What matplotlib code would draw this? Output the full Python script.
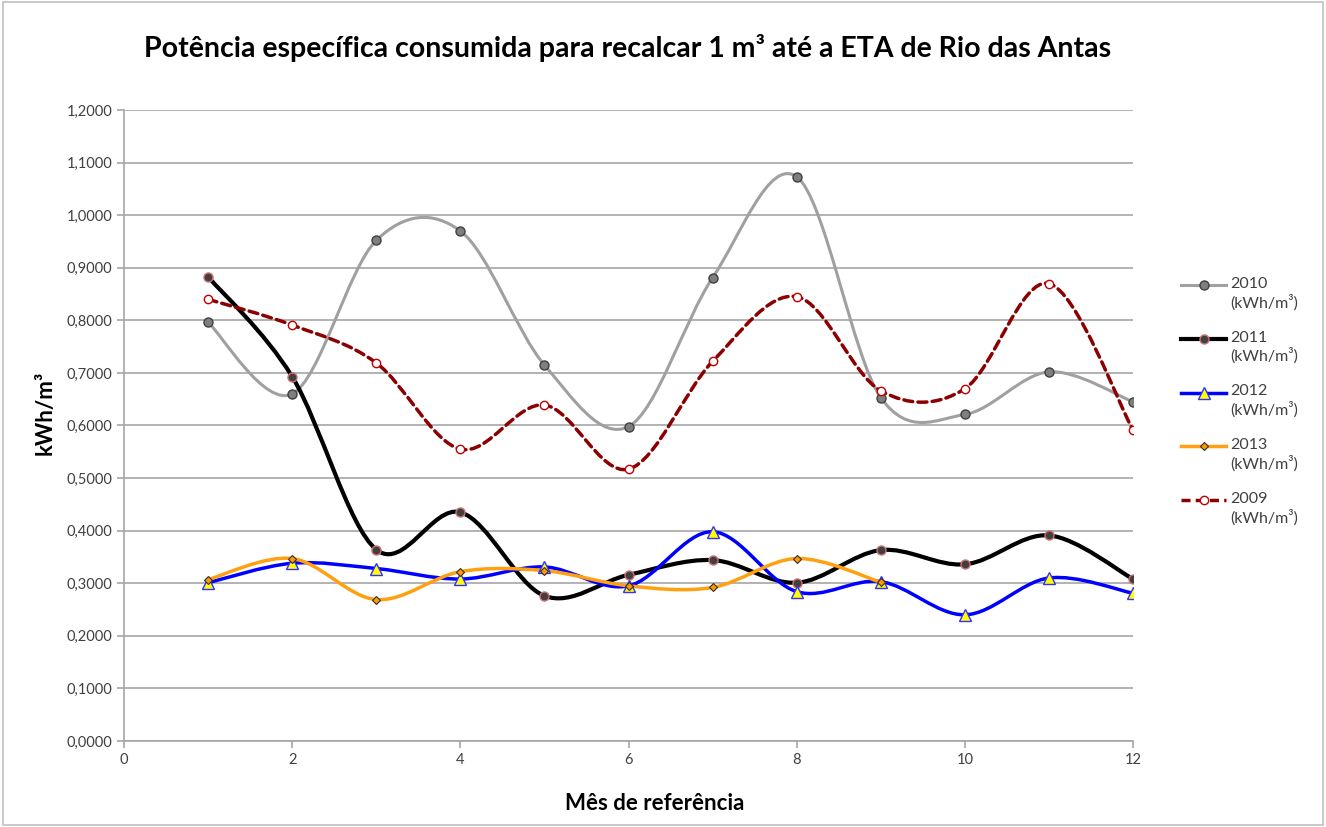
#!/usr/bin/env python3
import matplotlib
matplotlib.use('Agg')
import matplotlib.pyplot as plt
from matplotlib.path import Path
from matplotlib.patches import PathPatch, Rectangle
from matplotlib.lines import Line2D
import matplotlib.ticker as mt

plt.rcParams['font.family'] = ['Lato', 'DejaVu Sans']

months = [1, 2, 3, 4, 5, 6, 7, 8, 9, 10, 11, 12]

y2010 = [0.796, 0.660, 0.952, 0.970, 0.715, 0.598, 0.881, 1.073, 0.653, 0.621, 0.702, 0.645]
y2011 = [0.883, 0.693, 0.364, 0.435, 0.276, 0.316, 0.344, 0.301, 0.363, 0.336, 0.391, 0.308]
y2012 = [0.301, 0.338, 0.328, 0.308, 0.331, 0.295, 0.398, 0.284, 0.303, 0.240, 0.310, 0.281]
y2013 = [0.307, 0.347, 0.269, 0.322, 0.324, 0.295, 0.292, 0.347, 0.302]
y2009 = [0.840, 0.791, 0.719, 0.555, 0.639, 0.517, 0.722, 0.845, 0.666, 0.670, 0.870, 0.591]

labels = ['2010\n(kWh/m³)', '2011\n(kWh/m³)', '2012\n(kWh/m³)', '2013\n(kWh/m³)', '2009\n(kWh/m³)']


def smooth_path(xs, ys):
  # bezier like the excel "smoothed line"
  pts = list(zip(xs, ys))
  verts = [pts[0]]
  codes = [Path.MOVETO]
  n = len(pts)
  for i in range(n - 1):
    p0 = pts[i - 1] if i > 0 else pts[i]
    p1 = pts[i]
    p2 = pts[i + 1]
    p3 = pts[i + 2] if i + 2 < n else pts[i + 1]
    c1 = (p1[0] + (p2[0] - p0[0]) / 6, p1[1] + (p2[1] - p0[1]) / 6)
    c2 = (p2[0] - (p3[0] - p1[0]) / 6, p2[1] - (p3[1] - p1[1]) / 6)
    verts += [c1, c2, p2]
    codes += [Path.CURVE4] * 3
  return Path(verts, codes)


styles = [
  # line color, lw, ls, marker, ms, face, edge, mew
  ('#a0a0a0', 2.2, '-', 'o', 6.5, '#7f7f7f', '#404040', 1.0),
  ('#000000', 3.0, '-', 'o', 6.5, '#404040', '#d07070', 1.0),
  ('#0000ff', 2.5, '-', '^', 8, '#ffff00', '#3030ff', 1.0),
  ('#ffa010', 2.5, '-', 'D', 4.5, '#ff9900', '#303030', 0.8),
  ('#8b0000', 2.5, (0, (2.6, 1.5)), 'o', 6, '#ffffff', '#c00000', 1.0),
]
series = [y2010, y2011, y2012, y2013, y2009]

fig = plt.figure(figsize=(13.26, 8.27), dpi=100)
ax = fig.add_axes([0.0935, 0.104, 0.761, 0.763])

for ys, st in zip(series, styles):
  col, lw, ls, mk, ms, fc, ec, mew = st
  xs = months[:len(ys)]
  ax.add_patch(PathPatch(smooth_path(xs, ys), facecolor='none', edgecolor=col,
                         lw=lw, linestyle=ls, capstyle='round', joinstyle='round'))
  ax.plot(xs, ys, linestyle='none', marker=mk, markersize=ms,
          markerfacecolor=fc, markeredgecolor=ec, markeredgewidth=mew)

ax.set_xlim(0, 12)
ax.set_ylim(0, 1.2)
ax.set_xticks([0, 2, 4, 6, 8, 10, 12])
ax.yaxis.set_major_locator(mt.MultipleLocator(0.1))
ax.yaxis.set_major_formatter(mt.FuncFormatter(lambda v, p: '{:.4f}'.format(v).replace('.', ',')))
ax.grid(axis='y', color='#a6a6a6', lw=1.2)
ax.set_axisbelow(True)
for s in ['top', 'right']:
  ax.spines[s].set_visible(False)
for s in ['left', 'bottom']:
  ax.spines[s].set_color('#a6a6a6')
  ax.spines[s].set_linewidth(1.2)
ax.tick_params(axis='both', colors='#a6a6a6', labelcolor='#404040', labelsize=10.5, length=5, width=1.2)

# axis titles placed where excel put them
fig.text(655 / 1326, 1 - 803 / 827, 'Mês de referência', ha='center', va='center',
         fontsize=16, fontweight='bold')
fig.text(45 / 1326, 1 - 413 / 827, 'kWh/m³', ha='center', va='center', rotation=90,
         fontsize=16, fontweight='bold')
fig.text(0.473, 0.942, 'Potência específica consumida para recalcar 1 m³ até a ETA de Rio das Antas',
         ha='center', va='center', fontsize=20.5, fontweight='bold')

# legend drawn by hand so the marker sits on the first text line
x0, x1 = 1181 / 1326, 1226 / 1326
for i, st in enumerate(styles):
  col, lw, ls, mk, ms, fc, ec, mew = st
  yy = 1 - (285 + i * 53.8) / 827
  fig.add_artist(Line2D([x0, (x0 + x1) / 2, x1], [yy] * 3, color=col, lw=lw, linestyle=ls,
                        marker=mk, markersize=ms, markevery=[1], markerfacecolor=fc,
                        markeredgecolor=ec, markeredgewidth=mew))
  fig.text(1230 / 1326, yy + 0.010, labels[i], ha='left', va='top', fontsize=11.5,
           color='#404040', linespacing=1.25)

fig.add_artist(Rectangle((0.002, 0.002), 0.996, 0.996, transform=fig.transFigure,
                         facecolor='none', edgecolor='#c0c0c0', lw=1.2))

fig.savefig('out.png', dpi=100)
